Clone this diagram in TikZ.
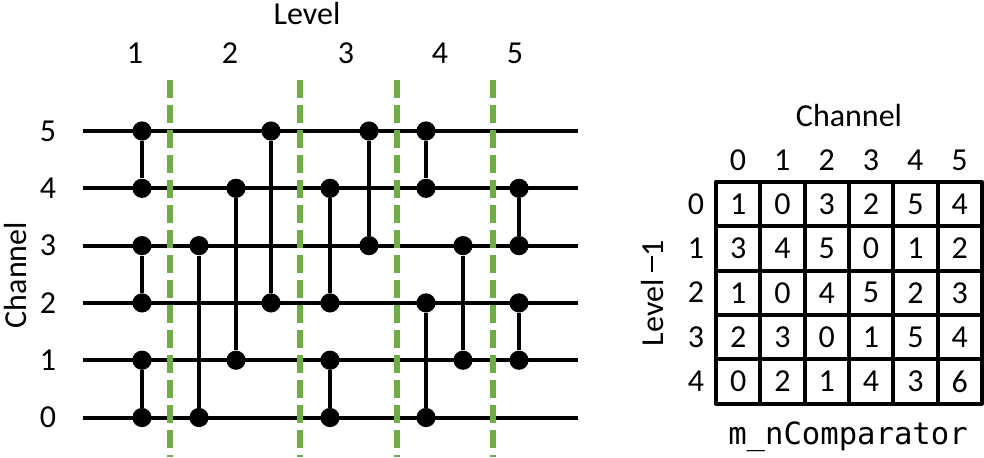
\documentclass[tikz,border=0pt]{standalone}
\usepackage{fontspec}
\setmainfont{Carlito}
\setmonofont{DejaVu Sans Mono}
\definecolor{lvlgreen}{HTML}{70AD47}
\tikzset{
  every picture/.style={line join=round},
  lbl/.style={font=\fontsize{16}{19}\selectfont, inner sep=0pt},
  dot/.style={circle, fill=black, inner sep=0pt, minimum size=9.6pt},
  cell/.style={draw, line width=2pt, minimum size=22.15pt, inner sep=0pt, font=\fontsize{16}{19}\selectfont},
  wire/.style={line width=2pt},
  comp/.style={line width=1.75pt},
  sep/.style={lvlgreen, line width=2.6pt, dash pattern=on 9pt off 3.5pt},
}

\begin{document}
\begin{tikzpicture}[x=0.5pt,y=-0.5pt]
\useasboundingbox (0,0) rectangle (984,457);
% channels
\foreach \ch in {0,...,5}{
  \coordinate (L\ch) at (83,{417.5-57.3*\ch});
  \coordinate (R\ch) at (578,{417.5-57.3*\ch});
  \node[lbl] (n\ch) at (48,{417.5-57.3*\ch}) {\ch};
  \draw[wire] (L\ch)--(R\ch);
}
\node[lbl,rotate=90] (chan) at (16,275) {Channel};
\node[lbl] (level) at (307,13) {Level};
\foreach \l/\x in {1/135,2/230,3/346,4/440,5/515}
  \node[lbl] (l\l) at (\x,53) {\l};
% level borders
\foreach \x [count=\i] in {170,300,397,493}{
  \coordinate (st\i) at (\x,80);
  \coordinate (sb\i) at (\x,457);
  \draw[sep] (st\i)--(sb\i);
}
% comparators
\foreach \x/\a/\b [count=\i] in {142/5/4,142/3/2,142/1/0,199/3/0,236/4/1,271/5/2,330/4/2,330/1/0,369/5/3,426/5/4,426/2/0,463/3/1,519/4/3,519/2/1}{
  \node[dot] (p\i) at (\x,{417.5-57.3*\a}) {};
  \node[dot] (q\i) at (\x,{417.5-57.3*\b}) {};
  \draw[comp] (p\i)--(q\i);
}
% table
\node[lbl] (chanT) at (849,115) {Channel};
\foreach \ch in {0,...,5}
  \node[lbl] (h\ch) at ({738+44.3*\ch},160) {\ch};
\foreach \rw in {0,...,4}
  \node[lbl] (rl\rw) at (696,{204+44.3*\rw}) {\rw};
\foreach \row [count=\rw from 0] in {{1,0,3,2,5,4},{3,4,5,0,1,2},{1,0,4,5,2,3},{2,3,0,1,5,4},{0,2,1,4,3,6}}
  \foreach \v [count=\cl from 0] in \row
    \node[cell] (m\rw\cl) at ({738.15+44.3*\cl},{204.15+44.3*\rw}) {\v};
\node[lbl,rotate=90] (lvlT) at (652,293) {Level \rule[0.3em]{0.5em}{0.07em}1};
\node[font=\ttfamily\fontsize{15.3}{18}\selectfont, inner sep=0pt] (name) at (848,437) {m\_nComparator};
\end{tikzpicture}
\end{document}
